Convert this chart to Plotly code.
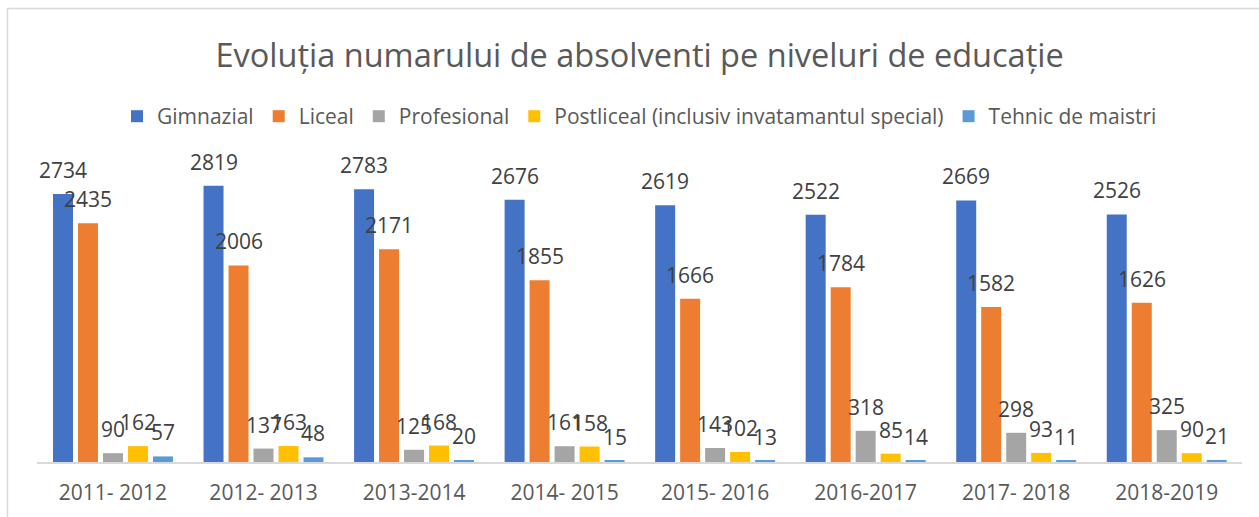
import plotly.graph_objects as go

years = ["2011- 2012", "2012- 2013", "2013-2014", "2014- 2015",
         "2015- 2016", "2016-2017", "2017- 2018", "2018-2019"]

series_names = ["Gimnazial", "Liceal", "Profesional",
                "Postliceal (inclusiv invatamantul special)", "Tehnic de maistri"]

gimnazial = [2734, 2819, 2783, 2676, 2619, 2522, 2669, 2526]
liceal = [2435, 2006, 2171, 1855, 1666, 1784, 1582, 1626]
profesional = [90, 137, 125, 161, 143, 318, 298, 325]
postliceal = [162, 163, 168, 158, 102, 85, 93, 90]
tehnic = [57, 48, 20, 15, 13, 14, 11, 21]

colors = ["#4472C4", "#ED7D31", "#A5A5A5", "#FFC000", "#5B9BD5"]

FONT = "Open Sans"
TXT = "#595959"
LBL = "#404040"

all_series = [gimnazial, liceal, profesional, postliceal, tehnic]
bargap = 0.17

fig = go.Figure()
for name, vals, col in zip(series_names, all_series, colors):
    fig.add_trace(go.Bar(
        x=years, y=vals, name=name,
        marker=dict(color=col, line=dict(width=0)),
        hoverinfo="x+y+name",
    ))

# value labels above each bar (category index + group offset)
n = len(all_series)
slot = (1 - bargap) / n
annotations = []
for k, vals in enumerate(all_series):
    off = (k - (n - 1) / 2) * slot
    for i, v in enumerate(vals):
        annotations.append(dict(
            x=i + off, y=v, xref="x", yref="y",
            text=str(v), showarrow=False, yanchor="bottom",
            yshift=8, font=dict(family=FONT, size=21, color=LBL),
        ))

fig.update_layout(
    width=1259, height=517,
    margin=dict(l=37, r=17, t=168, b=55),
    paper_bgcolor="white", plot_bgcolor="white",
    barmode="group", bargap=bargap, bargroupgap=0.2,
    title=dict(
        text="Evoluția numarului de absolventi pe niveluri de educație",
        x=0.508, xanchor="center", y=0.893, yanchor="middle",
        font=dict(family=FONT, size=32.5, color=TXT),
    ),
    legend=dict(
        orientation="h", x=0.5, xanchor="center", y=1.175, yanchor="middle",
        yref="paper",
        font=dict(family=FONT, size=21, color=TXT),
        traceorder="normal",
    ),
    xaxis=dict(
        showline=True, linecolor="#D9D9D9", linewidth=1.5,
        showgrid=False, ticks="", ticklabelstandoff=11,
        tickfont=dict(family=FONT, size=21, color=TXT),
    ),
    yaxis=dict(range=[0, 3000], visible=False, showgrid=False),
    annotations=annotations,
    shapes=[dict(
        type="rect", xref="paper", yref="paper",
        x0=(7.5 - 37) / 1205, x1=(1265 - 37) / 1205,
        y0=(462 - 525) / 294, y1=(462 - 8.5) / 294,
        line=dict(color="#D9D9D9", width=1.5), fillcolor="rgba(0,0,0,0)",
        layer="below",
    )],
)

fig.write_html("out.html")
